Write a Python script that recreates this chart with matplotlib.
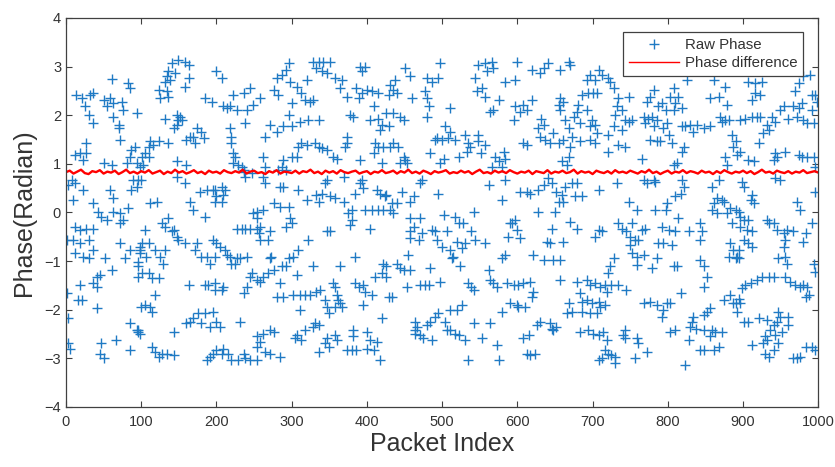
import matplotlib
matplotlib.use("Agg")
import matplotlib.pyplot as plt

plt.rcParams['font.family'] = ['Liberation Sans', 'DejaVu Sans']

# ---- Raw phase samples (packet index, phase in radian) ----
raw_0_100 = [(61,2.74),(83,2.66),(85,2.55),(14,2.42),(21,2.35),(32,2.42),(36,2.45),(50,2.31),(58,2.35),(63,2.25),
    (54,2.18),(74,2.28),(76,2.11),(94,2.04),(25,2.18),(30,2.01),(36,1.83),(63,1.97),(70,1.80),(70,1.73),(72,1.49),
    (27,1.42),(12,1.18),(19,1.22),(27,1.22),(23,1.08),(87,1.29),(92,1.35),(85,1.15),(81,1.01),(50,1.01),(61,0.98),
    (8,0.67),(12,0.60),(3,0.57),(23,0.46),(10,0.26),(58,0.46),(63,0.29),(87,0.46),(89,0.67),(100,0.67),(36,0.19),
    (43,0.02),(47,-0.09),(54,-0.15),(63,0.02),(72,-0.02),(83,0.09),(76,-0.15),(72,-0.22),(12,-0.29),(19,-0.36),
    (27,-0.33),(36,-0.33),(1,-0.57),(10,-0.57),(19,-0.63),(30,-0.57),(36,-0.77),(12,-0.84),(23,-0.91),(30,-0.94),
    (72,-0.63),(85,-0.77),(98,-0.70),(52,-0.94),(78,-0.94),(96,-1.01),(98,-0.84),(61,-1.18),(45,-1.29),(41,-1.32),
    (36,-1.46),(19,-1.49),(41,-1.53),(96,-1.32),(1,-1.66),(16,-1.80),(21,-1.80),(41,-1.97),(100,-1.94),(3,-2.18),
    (85,-2.28),(94,-2.42),(96,-2.45),(67,-2.62),(47,-2.69),(3,-2.69),(5,-2.80),(45,-2.90),(85,-2.83),(50,-3.00)]
raw_100_200 = [(141,3.07),(149,3.14),(158,3.10),(163,3.03),(136,2.90),(145,2.86),(134,2.80),(132,2.69),(138,2.73),
    (163,2.76),(158,2.59),(123,2.52),(134,2.49),(125,2.35),(136,2.38),(185,2.35),(194,2.28),(132,1.93),(147,2.01),
    (152,1.97),(149,1.90),(154,1.90),(143,1.73),(147,1.80),(174,1.73),(180,1.66),(169,1.56),(172,1.42),(183,1.53),
    (160,1.49),(165,1.56),(112,1.46),(116,1.39),(110,1.35),(123,1.46),(136,1.42),(105,1.22),(101,1.15),(110,1.15),
    (94,1.01),(98,0.94),(103,0.98),(147,1.05),(160,0.98),(147,0.74),(158,0.60),(96,0.67),(94,0.53),(112,0.19),
    (121,0.22),(165,0.22),(169,0.05),(178,0.43),(187,0.46),(196,0.46),(198,0.22),(185,-0.09),(136,-0.12),
    (127,-0.22),(132,-0.29),(141,-0.39),(147,-0.50),(149,-0.57),(158,-0.63),(143,-0.36),(105,-0.36),(101,-0.63),
    (110,-0.63),(98,-0.77),(107,-0.91),(118,-0.77),(125,-0.91),(132,-0.77),(129,-1.05),(96,-1.11),(101,-1.25),
    (110,-1.25),(114,-1.35),(123,-1.35),(174,-0.63),(172,-0.77),(180,-0.91),(187,-0.91),(191,-1.05),(198,-0.91),
    (118,-1.70),(105,-1.90),(112,-1.94),(114,-2.04),(163,-1.49),(185,-1.49),(189,-1.49),(198,-1.59),(143,-2.45),
    (96,-2.42),(98,-2.49),(176,-2.07),(169,-2.18),(185,-2.07),(180,-2.28),(160,-2.28),(165,-2.25),(191,-2.35),
    (114,-2.76),(118,-2.86),(127,-2.90),(134,-2.90),(143,-2.93),(123,-2.97),(187,-3.04),(191,-2.97),(196,-2.90)]
raw_200_300 = [(200,2.90),(207,2.76),(287,2.83),(280,2.76),(245,2.55),(222,2.42),(236,2.45),(258,2.35),(249,2.21),
    (240,2.11),(238,1.83),(209,2.18),(214,2.14),(218,2.18),(227,2.11),(276,2.52),(282,2.42),(289,1.77),(280,1.66),
    (265,1.56),(271,1.80),(218,1.73),(220,1.56),(220,1.42),(222,1.22),(225,1.15),(222,1.01),(229,0.98),(234,0.94),
    (236,0.87),(238,0.74),(262,1.15),(265,0.94),(262,0.74),(282,0.87),(287,0.94),(289,1.08),(198,0.46),(207,0.53),
    (211,0.46),(200,0.33),(209,0.36),(207,0.22),(236,0.84),(247,0.81),(265,0.60),(285,0.53),(289,0.53),(276,0.19),
    (285,0.12),(254,0.02),(262,0.05),(249,-0.02),(254,-0.12),(227,-0.33),(234,-0.33),(238,-0.33),(245,-0.33),
    (254,-0.33),(258,-0.29),(256,-0.43),(258,-0.57),(269,-0.57),(271,-0.39),(273,-0.91),(271,-0.94),(196,-0.57),
    (200,-0.63),(205,-0.70),(211,-0.77),(214,-0.87),(218,-0.91),(220,-1.05),(225,-1.05),(227,-0.94),(231,-0.94),
    (240,-0.91),(247,-1.25),(245,-1.32),(254,-1.39),(258,-1.42),(262,-1.32),(269,-1.25),(276,-1.18),(287,-1.11),
    (285,-1.46),(280,-1.73),(289,-1.73),(198,-1.46),(209,-1.53),(207,-1.59),(236,-1.66),(240,-1.53),(196,-2.04),
    (200,-2.25),(205,-2.35),(231,-2.25),(258,-2.66),(254,-2.55),(254,-2.76),(262,-2.49),(271,-2.42),(276,-2.45),
    (200,-2.83),(207,-2.90),(209,-2.80),(216,-2.90),(220,-3.04),(229,-3.04),(236,-2.90),(238,-3.00),(245,-3.04),
    (254,-3.04),(265,-2.86),(285,-2.97),(271,-2.90)]
raw_300_400 = [(296,3.07),(293,2.93),(329,3.10),(336,3.10),(342,3.10),(351,3.10),(333,2.97),(340,2.90),(347,2.86),
    (391,3.00),(320,2.73),(307,2.59),(298,2.69),(313,2.45),(300,2.25),(318,2.31),(324,2.28),(329,2.31),(358,2.76),
    (367,2.73),(364,2.55),(373,2.38),(386,2.55),(389,2.35),(296,2.01),(300,1.77),(311,1.86),(322,1.90),(336,1.90),
    (378,2.01),(382,1.97),(313,1.42),(320,1.39),(331,1.42),(336,1.35),(340,1.32),(347,1.29),(355,1.15),(360,1.11),
    (309,1.35),(300,1.15),(307,1.15),(373,1.56),(373,1.42),(371,1.35),(293,0.87),(309,0.46),(320,0.26),(333,0.36),
    (336,0.22),(340,0.39),(344,0.60),(347,0.67),(351,0.33),(358,0.29),(369,0.22),(380,0.05),(384,0.39),(369,0.74),
    (391,1.08),(391,0.60),(296,0.12),(298,-0.12),(300,-0.22),(293,-0.29),(347,-0.39),(351,-0.39),(375,-0.02),
    (380,-0.15),(378,-0.26),(384,-0.91),(322,-0.57),(309,-0.77),(302,-0.91),(296,-0.94),(293,-1.11),(307,-1.29),
    (329,-1.11),(364,-1.11),(355,-1.46),(358,-1.53),(360,-1.70),(362,-1.80),(364,-1.87),(367,-1.94),(344,-1.80),
    (347,-1.94),(349,-2.07),(358,-1.94),(384,-1.46),(389,-1.53),(311,-1.70),(302,-1.70),(318,-1.70),(324,-1.70),
    (333,-1.63),(338,-1.59),(311,-2.01),(331,-2.28),(329,-2.35),(336,-2.32),(347,-2.59),(344,-2.69),(349,-2.76),
    (336,-2.86),(307,-2.52),(305,-2.59),(313,-2.62),(318,-2.42),(358,-2.52),(360,-2.62),(373,-2.83),(380,-2.83),
    (386,-2.83),(382,-2.42),(382,-2.55)]
raw_400_500 = [(480,2.76),(486,2.69),(477,2.49),(480,2.35),(482,2.18),(480,1.97),(460,2.35),(451,2.97),(457,2.80),
    (438,2.73),(431,2.62),(435,2.52),(440,2.45),(429,2.42),(398,3.00),(393,2.90),(400,2.52),(407,2.49),(415,2.45),
    (393,2.45),(409,2.18),(404,1.90),(415,1.93),(426,2.04),(435,2.04),(444,1.97),(449,1.90),(420,1.80),(429,1.77),
    (418,1.70),(411,1.42),(422,1.35),(415,1.35),(431,1.35),(435,1.42),(442,1.35),(409,1.22),(449,1.15),(451,1.08),
    (453,1.01),(444,1.01),(420,1.01),(484,1.22),(491,1.49),(393,0.67),(395,0.50),(413,0.46),(418,0.39),(424,0.33),
    (426,0.36),(433,0.19),(440,0.19),(446,0.43),(457,0.22),(462,0.33),(473,0.67),(471,0.60),(398,0.05),(407,0.05),
    (415,0.05),(422,0.05),(431,0.05),(435,-0.02),(404,-0.33),(457,-0.12),(471,-0.12),(462,-0.29),(457,-0.39),
    (457,-0.53),(455,-0.87),(469,-0.57),(473,-0.43),(486,-0.36),(491,-0.39),(422,-1.05),(426,-1.11),(440,-1.05),
    (444,-1.15),(449,-1.18),(457,-1.18),(411,-1.32),(420,-1.25),(426,-1.32),(453,-1.53),(471,-1.49),(477,-1.49),
    (482,-1.49),(484,-1.15),(395,-1.49),(398,-1.63),(407,-1.70),(395,-1.90),(429,-1.73),(433,-1.73),(420,-2.18),
    (464,-2.25),(466,-2.35),(464,-2.42),(464,-2.49),(471,-2.52),(475,-2.59),(486,-2.62),(480,-2.32),(484,-2.25),
    (491,-2.14),(400,-2.45),(404,-2.62),(400,-2.80),(409,-2.83),(413,-2.66),(418,-3.04)]
raw_500_600 = [(497,3.07),(495,2.76),(548,3.03),(557,3.07),(566,3.10),(568,2.97),(559,2.90),(544,2.76),(553,2.55),
    (546,2.49),(557,2.38),(568,2.11),(564,2.07),(575,2.31),(511,2.14),(584,2.69),(504,1.77),(511,1.66),(517,1.49),
    (508,1.53),(493,1.53),(500,1.49),(531,1.59),(535,1.42),(537,1.35),(533,1.25),(548,1.59),(548,1.46),(557,1.39),
    (551,1.22),(522,1.15),(502,1.11),(497,1.01),(570,1.15),(575,1.05),(584,1.11),(582,1.25),(566,0.94),(579,0.94),
    (562,0.57),(584,0.67),(579,0.26),(495,0.39),(502,-0.05),(517,-0.09),(522,-0.22),(528,-0.22),(542,0.02),
    (506,-0.39),(520,-0.60),(493,-0.57),(500,-0.70),(511,-0.77),(515,-0.91),(513,-0.94),(526,-0.74),(531,-0.63),
    (539,-0.39),(544,-0.57),(557,-0.63),(588,-0.50),(590,-0.22),(584,-0.87),(579,-0.94),(497,-1.42),(524,-1.11),
    (535,-1.46),(539,-1.53),(542,-1.59),(562,-1.18),(564,-1.39),(568,-1.46),(573,-1.53),(586,-1.46),(495,-2.07),
    (504,-2.25),(511,-2.01),(520,-2.01),(526,-1.90),(506,-2.42),(511,-2.42),(517,-2.49),(522,-2.52),(531,-2.62),
    (535,-3.04),(542,-2.28),(553,-2.59),(564,-2.28),(573,-2.73),(575,-3.04),(579,-2.04),(590,-1.87)]
raw_600_700 = [(599,3.10),(619,2.93),(630,2.86),(635,2.97),(641,3.07),(657,2.93),(668,3.10),(670,3.03),(597,2.73),
    (608,2.21),(604,2.07),(613,2.11),(619,2.31),(597,2.18),(595,1.90),(632,1.93),(635,1.80),(628,1.73),(630,1.56),
    (637,1.49),(644,1.42),(648,1.63),(657,2.35),(655,2.21),(661,2.28),(657,2.11),(663,1.90),(668,1.73),(675,1.97),
    (679,2.07),(681,2.21),(686,2.42),(683,1.83),(672,1.56),(683,1.46),(608,1.42),(613,1.39),(655,1.42),(661,1.49),
    (659,1.05),(666,0.98),(668,1.15),(670,1.35),(641,0.70),(646,0.60),(635,0.57),(628,0.46),(613,0.43),(604,0.43),
    (617,0.39),(652,0.43),(659,0.36),(655,0.22),(663,0.53),(672,0.60),(679,0.60),(677,0.33),(686,0.33),(661,0.22),
    (628,0.02),(650,0.02),(593,-0.22),(597,-0.15),(599,-0.36),(604,-0.53),(646,-0.33),(670,-0.19),(679,-0.33),
    (639,-0.60),(644,-0.63),(661,-0.60),(621,-0.87),(635,-0.98),(648,-0.98),(657,-0.98),(657,-1.39),(595,-1.49),
    (601,-1.49),(608,-1.46),(617,-1.42),(621,-1.63),(619,-1.73),(599,-1.90),(610,-1.94),(601,-1.94),(679,-1.42),
    (683,-1.66),(686,-1.84),(668,-1.87),(672,-2.04),(666,-2.07),(686,-2.04),(630,-2.25),(626,-2.32),(644,-2.28),
    (646,-2.39),(652,-2.35),(648,-2.42),(615,-2.52),(608,-2.59),(683,-2.45),(613,-2.90),(617,-2.93),(624,-2.90)]
raw_700_800 = [(708,2.93),(712,2.83),(697,2.83),(692,2.73),(703,2.73),(721,2.76),(723,2.69),(728,2.55),(694,2.45),
    (701,2.45),(706,2.45),(748,2.38),(732,2.18),(730,2.01),(739,2.11),(734,2.35),(781,2.52),(776,2.38),(772,2.28),
    (787,2.18),(692,2.11),(699,1.90),(703,1.80),(706,1.63),(697,1.77),(721,1.59),(728,1.77),(739,1.70),(743,1.90),
    (748,1.86),(752,1.90),(768,1.97),(770,1.83),(774,1.93),(779,1.97),(785,1.90),(781,1.77),(776,1.49),(785,1.46),
    (790,1.46),(743,1.35),(734,1.39),(721,1.25),(703,1.42),(697,1.49),(765,1.11),(708,0.46),(732,0.60),(748,0.22),
    (759,0.05),(768,0.67),(772,0.60),(781,0.67),(783,0.63),(783,0.05),(708,-0.36),(712,-0.39),(703,-0.50),
    (734,-0.22),(739,-0.33),(745,-0.39),(752,-0.22),(750,-0.50),(756,-0.57),(761,-0.57),(765,-0.36),(770,-0.33),
    (750,-0.67),(752,-0.84),(759,-0.91),(759,-1.08),(768,-0.87),(779,-1.15),(785,-0.94),(787,-0.63),(728,-0.94),
    (723,-1.11),(721,-1.25),(692,-1.39),(697,-1.49),(703,-1.46),(710,-1.53),(717,-1.49),(719,-1.63),(725,-1.49),
    (734,-1.49),(745,-1.59),(692,-1.80),(699,-1.87),(708,-1.84),(710,-1.94),(697,-2.07),(706,-2.07),(717,-1.90),
    (768,-1.87),(776,-1.84),(785,-1.90),(694,-2.42),(701,-2.49),(708,-2.52),(714,-2.45),(719,-2.62),(743,-2.42),
    (741,-2.52),(743,-2.59),(759,-2.59),(761,-2.69),(772,-2.86),(717,-2.83),(721,-2.90),(725,-2.93),(730,-2.97),
    (708,-3.04),(712,-3.00),(730,-3.10),(756,-3.00)]
raw_800_900 = [(825,2.73),(861,2.73),(808,2.55),(803,2.38),(814,2.38),(810,2.25),(808,2.11),(819,2.14),(792,2.25),
    (797,2.11),(876,2.59),(856,2.35),(868,2.38),(879,2.21),(870,1.97),(872,1.86),(876,1.90),(881,1.90),(856,1.77),
    (848,1.73),(839,1.80),(830,1.80),(823,1.77),(834,1.66),(819,1.77),(799,1.83),(794,1.73),(801,1.59),(806,1.42),
    (821,1.35),(819,1.25),(812,1.01),(808,0.98),(885,1.59),(887,1.35),(876,1.15),(879,0.98),(890,1.46),(819,0.67),
    (821,0.53),(817,0.39),(859,0.53),(868,0.67),(865,0.29),(872,0.26),(861,0.19),(874,0.22),(859,0.05),(865,-0.02),
    (879,-0.02),(883,0.09),(890,0.05),(885,-0.22),(799,0.19),(810,0.33),(797,0.05),(814,-0.12),(801,-0.36),
    (810,-0.39),(828,-0.39),(843,-0.22),(845,-0.39),(843,-0.57),(792,-0.29),(794,-0.63),(806,-0.67),(883,-0.63),
    (887,-0.77),(890,-0.94),(881,-0.91),(808,-1.11),(812,-1.11),(843,-0.98),(848,-1.11),(852,-1.32),(848,-1.53),
    (817,-1.66),(799,-1.87),(803,-1.87),(794,-2.01),(792,-2.14),(803,-2.45),(810,-2.42),(874,-1.80),(883,-1.70),
    (887,-1.87),(890,-1.87),(856,-1.97),(852,-2.04),(848,-2.11),(834,-2.14),(832,-2.25),(830,-2.35),(828,-2.62),
    (837,-2.39),(848,-2.42),(859,-2.42),(863,-2.45),(872,-2.45),(856,-2.55),(843,-2.83),(848,-2.83),(868,-2.76),
    (861,-2.83),(823,-3.14)]
raw_900_1000 = [(907,2.69),(916,2.66),(925,2.69),(980,2.80),(974,2.66),(989,2.83),(916,2.45),(923,2.42),(912,2.31),
    (996,2.42),(998,2.28),(992,2.42),(969,2.49),(967,2.18),(974,2.14),(978,2.25),(954,2.18),(949,2.11),(960,1.93),
    (972,1.97),(980,1.90),(985,1.83),(994,1.83),(992,2.11),(896,1.90),(903,1.93),(912,1.97),(918,1.97),(923,1.97),
    (938,1.97),(943,1.86),(932,1.80),(934,1.70),(927,1.63),(921,1.42),(896,1.25),(892,1.18),(907,1.08),(914,1.05),
    (943,1.22),(941,1.08),(945,1.15),(956,1.25),(974,1.18),(978,1.15),(985,1.15),(994,1.15),(996,0.94),(943,0.70),
    (949,0.67),(898,0.63),(901,0.53),(912,0.36),(914,0.19),(910,0.26),(996,0.43),(972,0.22),(976,0.05),(894,0.02),
    (896,-0.09),(901,-0.15),(907,-0.15),(896,-0.29),(905,-0.36),(912,-0.39),(901,-0.57),(894,-0.77),(907,-0.63),
    (912,-0.70),(932,-0.15),(934,-0.22),(941,-0.22),(945,-0.36),(954,-0.43),(956,-0.57),(958,-0.36),(967,-0.39),
    (954,-0.70),(983,-0.43),(980,-0.60),(992,-0.22),(892,-0.91),(894,-0.94),(947,-0.94),(956,-0.91),(958,-1.05),
    (994,-1.05),(996,-1.22),(898,-1.56),(903,-1.49),(910,-1.46),(918,-1.39),(925,-1.32),(934,-1.32),(941,-1.32),
    (956,-1.32),(963,-1.42),(969,-1.49),(976,-1.53),(980,-1.49),(985,-1.53),(987,-1.70),(983,-1.73),(894,-1.77),
    (896,-1.87),(892,-2.04),(901,-2.25),(907,-2.25),(921,-2.18),(932,-2.21),(947,-2.04),(949,-2.14),(945,-2.25),
    (941,-2.32),(936,-2.42),(929,-2.55),(932,-2.62),(943,-2.52),(960,-2.14),(960,-2.32),(952,-2.45),(947,-2.69),
    (941,-2.83),(929,-2.90),(934,-2.97),(912,-2.73),(967,-3.00),(972,-3.00),(976,-2.97),(983,-2.76),(992,-2.76),
    (996,-2.83),(927,-2.69)]

# ---- Phase difference (every 5th packet) ----
diff_step = 5
phase_diff = [
    0.83,0.86,0.80,0.84,0.88,0.81,0.79,0.85,0.83,0.87,0.80,0.84,0.82,0.86,0.79,0.83,0.88,0.81,0.84,0.80,
    0.85,0.82,0.87,0.80,0.83,0.86,0.79,0.84,0.81,0.88,0.82,0.85,0.80,0.83,0.87,0.81,0.84,0.79,0.86,0.82,
    0.84,0.80,0.87,0.83,0.81,0.85,0.82,0.88,0.80,0.84,0.86,0.81,0.83,0.79,0.85,0.82,0.87,0.80,0.84,0.83,
    0.81,0.86,0.80,0.85,0.83,0.88,0.81,0.84,0.79,0.86,0.82,0.85,0.80,0.87,0.83,0.81,0.84,0.86,0.80,0.83,
    0.85,0.79,0.84,0.82,0.87,0.81,0.83,0.86,0.80,0.85,0.82,0.88,0.81,0.84,0.80,0.86,0.83,0.79,0.85,0.82,
    0.84,0.87,0.80,0.83,0.81,0.86,0.82,0.85,0.79,0.84,0.88,0.81,0.83,0.80,0.86,0.82,0.85,0.81,0.87,0.83,
    0.80,0.84,0.82,0.86,0.79,0.85,0.83,0.81,0.87,0.80,0.84,0.82,0.86,0.81,0.83,0.88,0.80,0.85,0.82,0.84,
    0.79,0.86,0.83,0.81,0.85,0.80,0.87,0.82,0.84,0.81,0.86,0.83,0.80,0.85,0.82,0.88,0.81,0.84,0.79,0.83,
    0.86,0.80,0.84,0.82,0.87,0.81,0.85,0.83,0.80,0.86,0.82,0.84,0.79,0.85,0.81,0.87,0.83,0.80,0.84,0.82,
    0.86,0.81,0.85,0.79,0.83,0.88,0.82,0.84,0.80,0.86,0.83,0.81,0.85,0.80,0.84,0.82,0.87,0.81,0.83,0.85,
    0.82]

x_ticks = [0, 100, 200, 300, 400, 500, 600, 700, 800, 900, 1000]
y_ticks = [-4, -3, -2, -1, 0, 1, 2, 3, 4]

segments = [raw_0_100, raw_100_200, raw_200_300, raw_300_400, raw_400_500,
            raw_500_600, raw_600_700, raw_700_800, raw_800_900, raw_900_1000]
raw_x = [p[0] for seg in segments for p in seg]
raw_y = [p[1] for seg in segments for p in seg]
diff_x = [i * diff_step for i in range(len(phase_diff))]

fig = plt.figure(figsize=(8.35, 4.67), dpi=100)
ax = fig.add_axes([0.079, 0.1285, 0.901, 0.833])

text_c = '#333333'
ax.plot(raw_x, raw_y, linestyle='none', marker='+', markersize=7.5, markeredgewidth=1.0,
        color='#1f7ac4', label='Raw Phase')
ax.plot(diff_x, phase_diff, color='#FF0000', linewidth=1.7, label='Phase difference')

ax.set_xlim(0, 1000)
ax.set_ylim(-4, 4)
ax.set_xticks(x_ticks)
ax.set_yticks(y_ticks)
ax.tick_params(direction='in', top=True, right=True, length=4, width=0.8,
               colors='#404040', labelsize=10.5, labelcolor=text_c)
ax.tick_params(axis='x', pad=6)
for s in ax.spines.values():
    s.set_color('#404040')
    s.set_linewidth(0.9)

ax.set_xlabel('Packet Index', fontsize=18, color=text_c, labelpad=2)
ax.set_ylabel('Phase(Radian)', fontsize=18, color=text_c, labelpad=6)

leg = ax.legend(loc='upper right', bbox_to_anchor=(0.98, 0.964), borderaxespad=0,
                fontsize=10.8, frameon=True, fancybox=False, framealpha=1,
                edgecolor='#404040', handlelength=3.3, handletextpad=0.4,
                borderpad=0.4, labelspacing=0.3, markerscale=1.0)
leg.get_frame().set_linewidth(0.9)
for line in leg.get_lines():
    line.set_linewidth(1.0)
for t in leg.get_texts():
    t.set_color(text_c)

fig.savefig('out.png', dpi=100, facecolor='white')
